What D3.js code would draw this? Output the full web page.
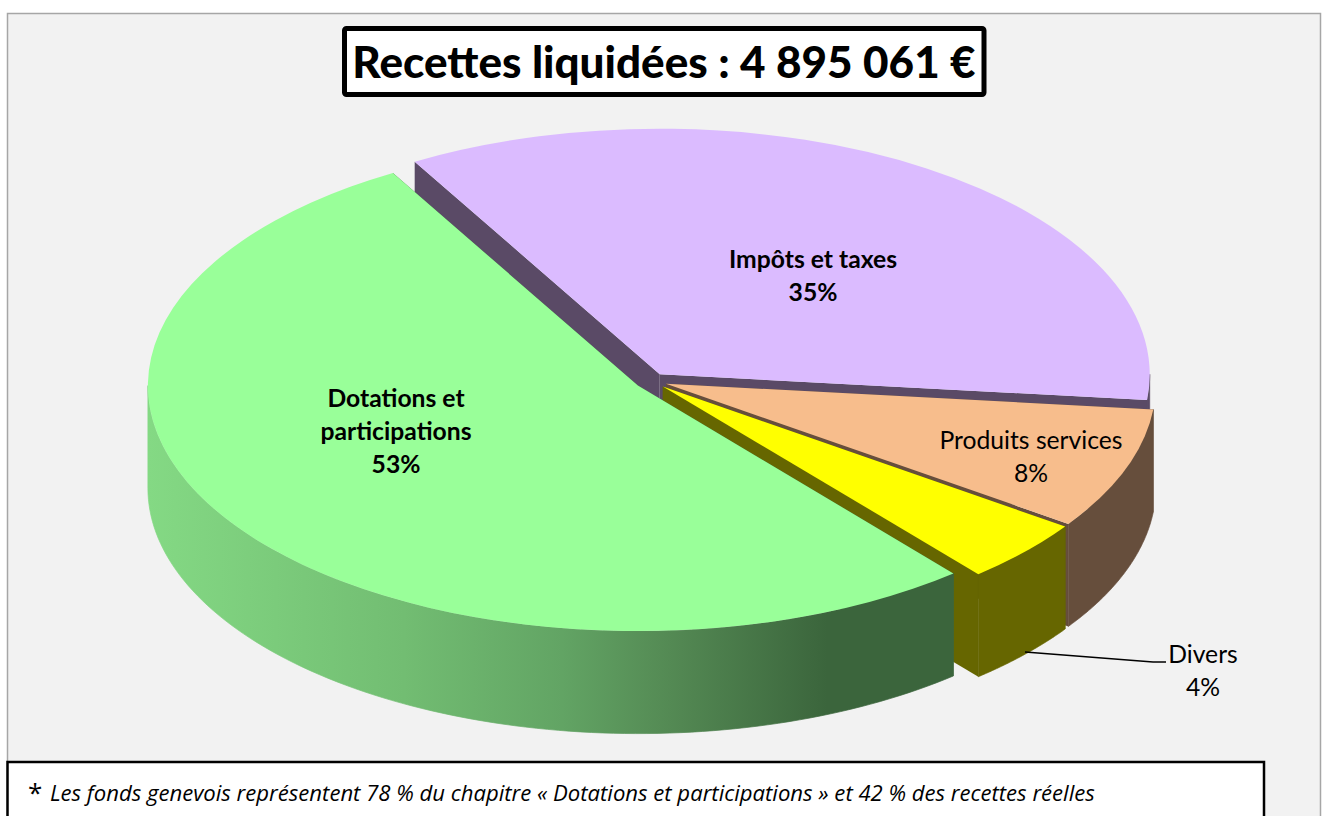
<!DOCTYPE html>
<html>
<head>
<meta charset="utf-8">
<script src="https://cdnjs.cloudflare.com/ajax/libs/d3/7.8.5/d3.min.js"></script>
<style>
  html, body { margin: 0; padding: 0; background: #fff; overflow: hidden; }
  svg { display: block; }
  text { font-family: Lato, sans-serif; fill: #000; }
</style>
</head>
<body>
<svg id="canvas" width="1323" height="816"></svg>
<script>
// data, in clockwise order from the purple slice
var categories = ['Impôts et taxes', 'Produits services', 'Divers', 'Dotations et participations'];
var shares = [35, 8, 4.2, 52.8];
var shareLabels = ['35%', '8%', '4%', '53%'];
var titleText = 'Recettes liquidées : 4 895 061 €';
var noteText = 'Les fonds genevois représentent 78 % du chapitre « Dotations et participations » et 42 % des recettes réelles';

// slice styling, same order as categories
var topColors = ['#dbbbff', '#f7bd8c', '#ffff00', '#99ff99'];
var sideColors = ['#5a4a66', '#664e3c', '#666600', 'url(#greenSide)'];
var faceColors = ['#5a4a66', '#664e3c', '#666600', '#3b653c'];

var cx = 651, cy = 381, rx = 490, ry = 245.5, depth = 102.5, explode = 16;
var startDeg = -30;

var svg = d3.select('#canvas');

var x = d3.scaleLinear().domain([-1, 1]).range([-rx, rx]);
var y = d3.scaleLinear().domain([-1, 1]).range([-ry, ry]);

var pie = d3.pie().sort(null)
	.startAngle(startDeg * Math.PI / 180)
	.endAngle((startDeg + 360) * Math.PI / 180);
var arcs = pie(shares);

// chart area
svg.append('rect').attr('x', 7.5).attr('y', 13.5).attr('width', 1313).attr('height', 810)
	.attr('fill', '#f2f2f2').attr('stroke', '#a6a6a6').attr('stroke-width', 1.5);

// shading of the green wall, runs across its own box from left to right
var defs = svg.append('defs');
var grad = defs.append('linearGradient').attr('id', 'greenSide')
	.attr('x1', 0).attr('x2', 1).attr('y1', 0).attr('y2', 0);
[[0, '#84d984'], [0.318, '#72bd72'], [0.514, '#62a464'], [0.646, '#548a54'], [0.843, '#3b653c'], [1, '#3b653c']].forEach(function (s) {
	grad.append('stop').attr('offset', s[0]).attr('stop-color', s[1]);
});

// point on the rim at pie angle a, relative to the slice centre
var rimX = function (a) { return x(Math.sin(a)); };
var rimY = function (a) { return y(-Math.cos(a)); };

var line = d3.line();

var topArc = d3.arc().innerRadius(0).outerRadius(rx);

// array order is already back to front here
arcs.forEach(function (d, i) {
	var mid = (d.startAngle + d.endAngle) / 2;
	var g = svg.append('g')
		.attr('class', 'slice')
		.attr('transform', 'translate(' + (cx + explode * Math.sin(mid)) + ',' + (cy - explode * Math.cos(mid) * ry / rx) + ')');

	// the two cut faces, hidden ones get painted over by the wall and top
	[d.startAngle, d.endAngle].forEach(function (a) {
		g.append('path')
			.attr('d', line([[0, 0], [rimX(a), rimY(a)], [rimX(a), rimY(a) + depth], [0, depth]]) + 'Z')
			.attr('fill', faceColors[i]);
	});

	// outer wall, only the part turned to the front
	var a0 = Math.max(d.startAngle, Math.PI / 2);
	var a1 = Math.min(d.endAngle, 3 * Math.PI / 2);
	if (a1 > a0) {
		var steps = d3.range(0, 101).map(function (k) { return a0 + (a1 - a0) * k / 100; });
		var upper = steps.map(function (a) { return [rimX(a), rimY(a)]; });
		var lower = steps.slice().reverse().map(function (a) { return [rimX(a), rimY(a) + depth]; });
		g.append('path')
			.attr('d', line(upper.concat(lower)) + 'Z')
			.attr('fill', sideColors[i])
			.attr('stroke', sideColors[i]).attr('stroke-width', 0.7); // hides the seam against the cut face
	}

	g.append('path')
		.attr('transform', 'scale(1,' + (ry / rx) + ')')
		.attr('d', topArc(d))
		.attr('fill', topColors[i]);
});

// leader line for Divers
svg.append('path')
	.attr('d', line([[1025, 652], [1153, 662], [1166, 662]]))
	.attr('fill', 'none').attr('stroke', '#000').attr('stroke-width', 1.6);

// data labels
var labelLines = [[categories[0], shareLabels[0]], [categories[1], shareLabels[1]], [categories[2], shareLabels[2]], ['Dotations et', 'participations', shareLabels[3]]];
var labelX = [813, 1031, 1203, 396];
var labelY = [259, 440, 654, 398];
var labelWeight = ['bold', 'normal', 'normal', 'bold'];
labelLines.forEach(function (lines, i) {
	lines.forEach(function (t, k) {
		svg.append('text')
			.attr('x', labelX[i]).attr('y', labelY[i] + k * 33)
			.attr('dy', '0.35em')
			.attr('text-anchor', 'middle')
			.attr('font-size', 24.7)
			.attr('font-weight', labelWeight[i])
			.text(t);
	});
});

// title box
svg.append('rect').attr('x', 344.5).attr('y', 28.5).attr('width', 639.5).attr('height', 66)
	.attr('rx', 2).attr('fill', '#fff').attr('stroke', '#000').attr('stroke-width', 5);
svg.append('text').attr('x', 664).attr('y', 78)
	.attr('text-anchor', 'middle').attr('font-size', 44).attr('font-weight', 900)
	.text(titleText);

// footnote box
svg.append('rect').attr('x', 7.5).attr('y', 762).attr('width', 1256.5).attr('height', 70)
	.attr('fill', '#fff').attr('stroke', '#000').attr('stroke-width', 2.5);
svg.append('text').attr('x', 28).attr('y', 802).attr('font-size', 26)
	.style('font-family', '"Open Sans", sans-serif').text('*');
svg.append('text').attr('x', 50).attr('y', 801).attr('font-size', 22.1)
	.attr('font-style', 'italic').style('font-family', '"Open Sans", sans-serif')
	.text(noteText);
</script>
</body>
</html>
